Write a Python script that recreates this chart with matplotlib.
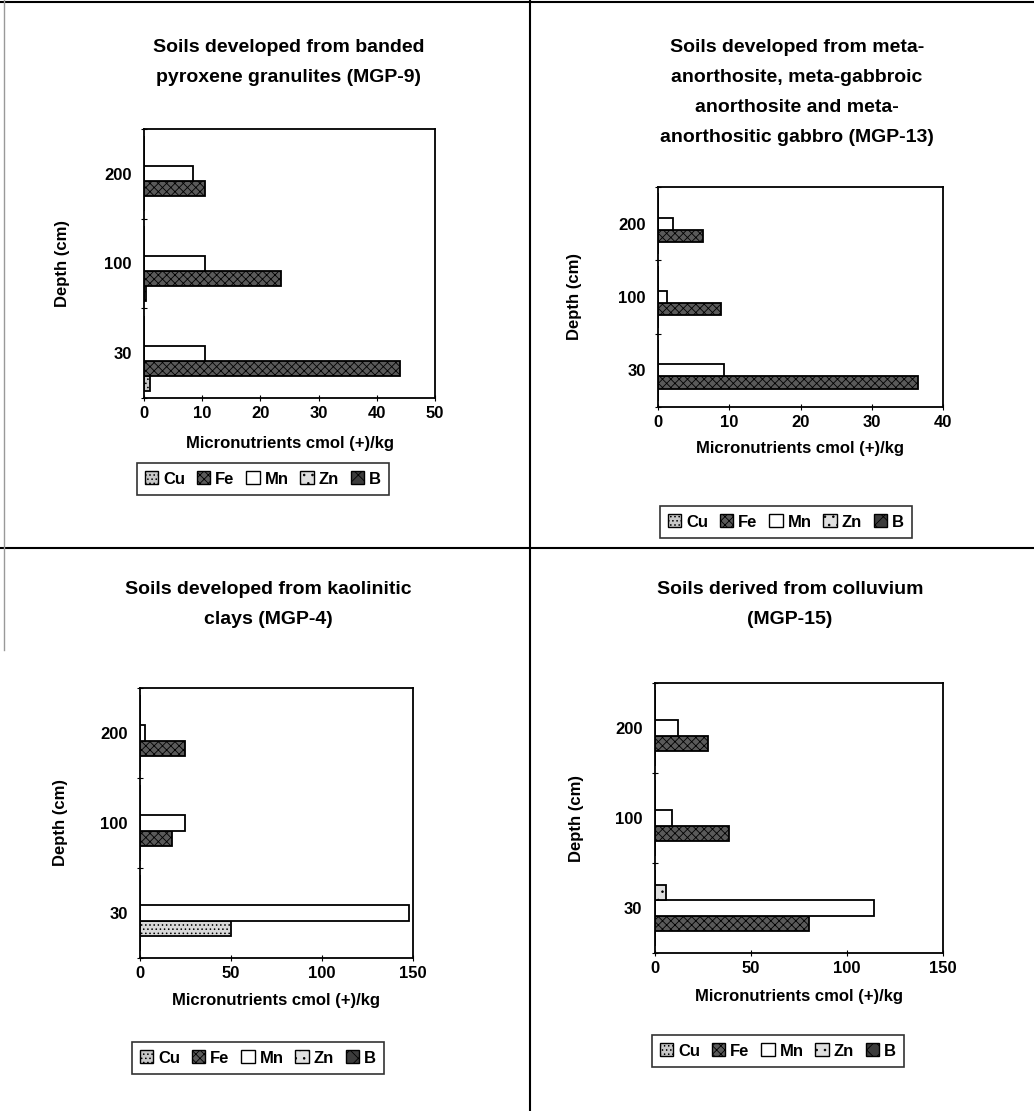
import matplotlib
matplotlib.use("Agg")
import matplotlib.pyplot as plt
from matplotlib.patches import Patch
from matplotlib.lines import Line2D
import numpy as np

plt.rcParams['font.family'] = ['Liberation Sans', 'DejaVu Sans']
plt.rcParams['hatch.linewidth'] = 0.6

depths = ['30', '100', '200']
series = ['Cu', 'Fe', 'Mn', 'Zn', 'B']

# Panel 1: MGP-9
p1_cu = [1.0, 0.4, 0.0]
p1_fe = [44.0, 23.5, 10.5]
p1_mn = [10.5, 10.5, 8.5]
p1_zn = [0.0, 0.0, 0.0]
p1_b = [0.0, 0.0, 0.0]

# Panel 2: MGP-13
p2_cu = [0.0, 0.0, 0.0]
p2_fe = [36.5, 8.9, 6.3]
p2_mn = [9.2, 1.3, 2.1]
p2_zn = [0.0, 0.0, 0.0]
p2_b = [0.0, 0.0, 0.0]

# Panel 3: MGP-4
p3_cu = [0.0, 0.0, 0.0]
p3_fe = [50.0, 17.5, 24.5]
p3_mn = [148.0, 24.5, 3.0]
p3_zn = [0.0, 0.0, 0.0]
p3_b = [0.0, 0.0, 0.0]

# Panel 4: MGP-15
p4_cu = [0.0, 0.0, 0.0]
p4_fe = [80.0, 38.5, 27.5]
p4_mn = [114.0, 9.0, 12.0]
p4_zn = [5.5, 0.0, 0.0]
p4_b = [0.0, 0.0, 0.0]

titles = [
    ['Soils developed from banded', 'pyroxene granulites (MGP-9)'],
    ['Soils developed from meta-', 'anorthosite, meta-gabbroic',
     'anorthosite and meta-', 'anorthositic gabbro (MGP-13)'],
    ['Soils developed from kaolinitic', 'clays (MGP-4)'],
    ['Soils derived from colluvium', '(MGP-15)'],
]
xticks_list = [[0, 10, 20, 30, 40, 50], [0, 10, 20, 30, 40],
               [0, 50, 100, 150], [0, 50, 100, 150]]
xlabel = 'Micronutrients cmol (+)/kg'
ylabel = 'Depth (cm)'

panel_data = [
    [p1_cu, p1_fe, p1_mn, p1_zn, p1_b],
    [p2_cu, p2_fe, p2_mn, p2_zn, p2_b],
    [p3_cu, p3_fe, p3_mn, p3_zn, p3_b],
    [p4_cu, p4_fe, p4_mn, p4_zn, p4_b],
]

W, H = 1034, 1111
fig = plt.figure(figsize=(W / 100, H / 100), dpi=100)

def px_axes(l, r, t, b):
    return [l / W, 1 - b / H, (r - l) / W, (b - t) / H]

axes_px = [(144, 435, 129, 398), (658, 943, 187, 407),
           (140, 413, 688, 958), (655, 943, 683, 953)]
title_pos = [(289, [47, 77]), (797, [47, 77, 108, 138]),
             (268, [590, 620]), (790, [590, 620])]
ylabel_x = [62, 575, 60, 577]
xlabel_y = [444, 448, 1001, 996]
legend_c = [(263, 479), (786, 522), (258, 1058), (778, 1051)]

styles = {
    'Cu': dict(facecolor='#c8c8c8', hatch='....', edgecolor='black'),
    'Fe': dict(facecolor='#5a5a5a', hatch='xxxx', edgecolor='black'),
    'Mn': dict(facecolor='white', hatch=None, edgecolor='black'),
    'Zn': dict(facecolor='#e0e0e0', hatch='..', edgecolor='black'),
    'B': dict(facecolor='#3c3c3c', hatch='xx', edgecolor='black'),
}

bh = 0.167
y = np.arange(len(depths))
for i, (data, (l, r, t, b)) in enumerate(zip(panel_data, axes_px)):
    ax = fig.add_axes(px_axes(l, r, t, b))
    for k, (name, vals) in enumerate(zip(series, data)):
        off = (k - 2) * bh
        st = styles[name]
        for j, v in enumerate(vals):
            fc = st['facecolor']
            hatch = st['hatch']
            if i == 2 and name == 'Fe' and j == 0:
                fc, hatch = '#d8d8d8', '....'
            ax.barh(y[j] + off, v, height=bh, color=fc,
                    edgecolor=st['edgecolor'], hatch=hatch, linewidth=1.3)
    xt = xticks_list[i]
    ax.set_xlim(xt[0], xt[-1])
    ax.set_ylim(-0.5, len(depths) - 0.5)
    ax.set_xticks(xt)
    ax.set_xticklabels([str(v) for v in xt], fontsize=12, fontweight='bold')
    ax.set_yticks(y)
    ax.set_yticklabels(depths, fontsize=12, fontweight='bold')
    ax.set_yticks(np.arange(-0.5, len(depths), 1.0), minor=True)
    ax.tick_params(axis='y', which='major', length=0, pad=9)
    ax.tick_params(axis='y', which='minor', length=5, direction='inout', width=0.8)
    ax.tick_params(axis='x', length=5, direction='inout', width=0.8, pad=3)
    for s in ax.spines.values():
        s.set_linewidth(1.3)
    ax.set_xlabel(xlabel, fontsize=12, fontweight='bold', va='center')
    ax.xaxis.set_label_coords(0.5, -(xlabel_y[i] - b) / (b - t))
    ax.set_ylabel(ylabel, fontsize=12, fontweight='bold', va='center')
    ax.yaxis.set_label_coords((ylabel_x[i] - l) / (r - l), 0.5)
    cx, ys = title_pos[i]
    for line, yy in zip(titles[i], ys):
        fig.text(cx / W, 1 - yy / H, line, ha='center', va='center',
                 fontsize=14, fontweight='bold')
    handles = [Patch(facecolor=styles[n]['facecolor'], hatch=styles[n]['hatch'],
                     edgecolor='black', linewidth=1.0, label=n) for n in series]
    lc = legend_c[i]
    leg = ax.legend(handles=handles, loc='center',
                    bbox_to_anchor=((lc[0] - l) / (r - l), (b - lc[1]) / (b - t)),
                    ncol=5, prop={'size': 12, 'weight': 'bold'}, frameon=True,
                    fancybox=False, edgecolor='black', handlelength=0.8,
                    handleheight=0.8, handletextpad=0.3, columnspacing=0.7,
                    borderpad=0.5, borderaxespad=0)
    leg.get_frame().set_linewidth(1.2)

# cell borders
fig.add_artist(Line2D([0, 1], [1 - 2 / H, 1 - 2 / H], color='black', lw=1.5))
fig.add_artist(Line2D([530 / W, 530 / W], [0, 1], color='black', lw=1.5))
fig.add_artist(Line2D([0, 1], [1 - 548 / H, 1 - 548 / H], color='black', lw=1.5))
fig.add_artist(Line2D([4 / W, 4 / W], [1 - 650 / H, 1], color='#999999', lw=1.0))

fig.savefig('out.png', dpi=100)
